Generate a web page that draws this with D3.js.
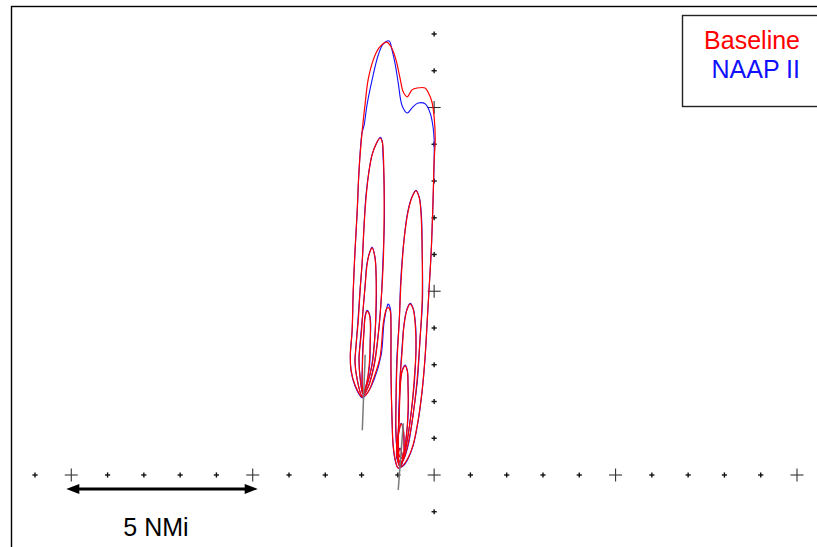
<!DOCTYPE html>
<html>
<head>
<meta charset="utf-8">
<script src="https://cdn.jsdelivr.net/npm/d3@7"></script>
<style>
  html, body { margin: 0; padding: 0; background: #fff; }
  svg { display: block; }
  text { font-family: "Liberation Sans", Arial, sans-serif; }
</style>
</head>
<body>
<svg id="chart" width="817" height="547"></svg>
<script>
// Grid reference marks (nautical miles from the reference point)
const gridX = d3.range(-11, 11);   // marks along the east-west line
const gridY = d3.range(-1, 13);    // marks along the north-south line
const majorStep = 5;

// Scale bar
const scaleBar = { from: -10, to: -5, y: -0.38, label: "5 NMi" };

// Legend entries
const seriesNames = ["Baseline", "NAAP II"];
const seriesColors = ["#ff0000", "#1010ff"];

// Noise contours, [x NMi, y NMi] vertices, Baseline scenario
const baseOuter = [[-1.31,11.78],[-1.52,11.62],[-1.68,11.29],[-1.82,10.75],[-1.90,10.12],[-1.98,9.39],[-2.07,8.30],[-2.12,7.21],[-2.18,6.12],[-2.23,5.03],[-2.26,3.95],[-2.31,3.27],[-2.29,2.86],[-2.18,2.45],[-1.98,2.12],[-1.82,2.26],[-1.68,2.59],[-1.49,3.21],[-1.40,4.14],[-1.32,4.50],[-1.27,4.56],[-1.21,4.46],[-1.19,4.03],[-1.19,2.86],[-1.16,1.50],[-1.13,0.82],[-1.07,0.41],[-0.99,0.19],[-0.85,0.27],[-0.72,0.46],[-0.58,0.82],[-0.44,1.50],[-0.33,2.31],[-0.25,3.21],[-0.19,4.22],[-0.15,4.90],[-0.08,6.12],[-0.03,7.48],[0.00,8.57],[0.03,9.12],[0.00,9.74],[-0.06,10.15],[-0.17,10.42],[-0.25,10.53],[-0.47,10.53],[-0.61,10.48],[-0.74,10.29],[-0.85,10.42],[-0.94,10.80],[-1.05,11.29],[-1.18,11.64]];
const baseL2 = [[-1.49,9.17],[-1.60,9.01],[-1.71,8.71],[-1.79,8.30],[-1.87,7.62],[-1.93,6.80],[-1.98,5.85],[-2.04,5.03],[-2.09,4.22],[-2.15,3.54],[-2.18,3.07],[-2.12,2.59],[-1.98,2.15],[-1.82,2.39],[-1.65,2.99],[-1.54,3.81],[-1.46,4.76],[-1.40,5.85],[-1.38,6.94],[-1.38,7.95],[-1.40,8.71],[-1.43,9.06]];
const baseL3 = [[-1.71,6.18],[-1.79,6.01],[-1.85,5.71],[-1.90,5.17],[-1.96,4.49],[-2.01,3.81],[-2.07,3.18],[-2.04,2.64],[-1.96,2.20],[-1.85,2.45],[-1.71,2.99],[-1.63,3.81],[-1.60,4.76],[-1.60,5.44],[-1.63,5.91]];
const baseL4 = [[-1.85,4.46],[-1.90,4.30],[-1.93,3.95],[-1.96,3.40],[-1.98,2.86],[-1.98,2.42],[-1.96,2.23],[-1.87,2.45],[-1.79,2.99],[-1.76,3.67],[-1.76,4.16],[-1.79,4.38]];
const baseR2 = [[-0.50,7.73],[-0.61,7.56],[-0.72,7.16],[-0.83,6.39],[-0.91,5.31],[-0.96,4.22],[-1.02,3.13],[-1.05,2.04],[-1.05,1.22],[-1.02,0.63],[-0.96,0.27],[-0.85,0.41],[-0.72,0.84],[-0.58,1.63],[-0.47,2.59],[-0.39,3.67],[-0.33,4.76],[-0.33,6.12],[-0.36,7.07],[-0.41,7.54]];
const baseR3 = [[-0.66,4.65],[-0.74,4.52],[-0.83,4.08],[-0.88,3.40],[-0.94,2.59],[-0.96,1.77],[-0.99,1.01],[-0.99,0.46],[-0.91,0.35],[-0.77,0.82],[-0.63,1.71],[-0.55,2.59],[-0.50,3.40],[-0.52,4.08],[-0.58,4.52]];
const baseR4 = [[-0.80,2.97],[-0.88,2.83],[-0.94,2.31],[-0.96,1.63],[-0.99,0.95],[-0.96,0.52],[-0.88,0.46],[-0.77,1.01],[-0.72,1.77],[-0.72,2.45],[-0.74,2.83]];
const baseR5 = [[-0.91,1.39],[-0.96,1.22],[-1.02,0.82],[-1.02,0.46],[-0.94,0.33],[-0.85,0.46],[-0.83,0.82],[-0.85,1.22]];
const baseR6 = [[-0.94,0.71],[-0.99,0.54],[-0.99,0.35],[-0.94,0.24],[-0.88,0.35],[-0.88,0.54]];

// Noise contours, NAAP II scenario
const naapOuter = [[-1.24,11.81],[-1.40,11.73],[-1.54,11.43],[-1.71,10.75],[-1.85,10.07],[-1.93,9.52],[-1.99,9.30],[-2.07,8.27],[-2.12,7.16],[-2.18,6.10],[-2.23,4.98],[-2.26,3.92],[-2.31,3.24],[-2.29,2.83],[-2.18,2.42],[-1.98,2.10],[-1.82,2.26],[-1.65,2.61],[-1.46,3.27],[-1.38,4.16],[-1.30,4.57],[-1.27,4.65],[-1.21,4.54],[-1.19,4.05],[-1.19,2.83],[-1.16,1.47],[-1.13,0.79],[-1.07,0.38],[-0.99,0.19],[-0.85,0.25],[-0.72,0.44],[-0.58,0.79],[-0.44,1.47],[-0.33,2.29],[-0.25,3.18],[-0.19,4.19],[-0.15,4.88],[-0.08,6.10],[-0.03,7.46],[0.00,8.57],[0.00,9.12],[-0.03,9.47],[-0.11,9.85],[-0.25,10.10],[-0.44,10.12],[-0.61,9.99],[-0.74,9.85],[-0.88,10.04],[-0.99,10.67],[-1.07,11.16],[-1.16,11.56]];
const naapL2 = [[-1.48,9.19],[-1.59,9.02],[-1.71,8.72],[-1.79,8.31],[-1.88,7.60],[-1.93,6.82],[-1.98,5.83],[-2.04,5.05],[-2.10,4.20],[-2.15,3.55],[-2.18,3.05],[-2.12,2.60],[-1.98,2.14],[-1.82,2.40],[-1.66,2.98],[-1.54,3.83],[-1.46,4.74],[-1.41,5.86],[-1.37,6.93],[-1.38,7.96],[-1.41,8.72],[-1.43,9.07]];
const naapL3 = [[-1.71,6.20],[-1.79,6.02],[-1.86,5.70],[-1.90,5.19],[-1.96,4.47],[-2.02,3.82],[-2.07,3.16],[-2.04,2.65],[-1.96,2.19],[-1.85,2.46],[-1.72,2.98],[-1.63,3.83],[-1.59,4.75],[-1.60,5.46],[-1.63,5.92]];
const naapL4 = [[-1.85,4.48],[-1.91,4.29],[-1.93,3.97],[-1.97,3.39],[-1.98,2.88],[-1.99,2.41],[-1.96,2.22],[-1.87,2.46],[-1.78,2.98],[-1.76,3.69],[-1.75,4.15],[-1.79,4.40]];
const naapR2 = [[-0.50,7.75],[-0.61,7.57],[-0.73,7.15],[-0.83,6.41],[-0.92,5.30],[-0.96,4.24],[-1.03,3.12],[-1.05,2.06],[-1.06,1.21],[-1.02,0.64],[-0.96,0.26],[-0.84,0.42],[-0.71,0.83],[-0.58,1.65],[-0.46,2.58],[-0.39,3.69],[-0.32,4.75],[-0.33,6.14],[-0.35,7.06],[-0.41,7.56]];
const naapR3 = [[-0.66,4.67],[-0.75,4.51],[-0.83,4.10],[-0.89,3.39],[-0.94,2.61],[-0.97,1.76],[-0.99,1.03],[-1.00,0.45],[-0.91,0.34],[-0.76,0.83],[-0.63,1.73],[-0.54,2.58],[-0.50,3.42],[-0.51,4.07],[-0.58,4.54]];
const naapR4 = [[-0.80,2.99],[-0.89,2.82],[-0.94,2.33],[-0.97,1.62],[-0.99,0.97],[-0.96,0.51],[-0.87,0.47],[-0.77,1.03],[-0.71,1.76],[-0.72,2.47],[-0.74,2.85]];
const naapR5 = [[-0.91,1.41],[-0.97,1.21],[-1.02,0.84],[-1.03,0.45],[-0.94,0.32],[-0.84,0.47],[-0.83,0.84],[-0.85,1.24]];
const naapR6 = [[-0.94,0.73],[-1.00,0.53],[-0.99,0.36],[-0.94,0.23],[-0.87,0.36],[-0.88,0.55]];

// Flight tracks
const trackWest = [[-1.98,1.22],[-1.90,3.27]];
const trackEast = [[-0.99,-0.41],[-0.85,1.41]];

const baseContours = [baseOuter, baseL2, baseL3, baseL4, baseR2, baseR3, baseR4, baseR5, baseR6];
const naapContours = [naapOuter, naapL2, naapL3, naapL4, naapR2, naapR3, naapR4, naapR5, naapR6];

const svg = d3.select("#chart");
const x = d3.scaleLinear().domain([-11, 10]).range([35, 797]);
const y = d3.scaleLinear().domain([-1, 12]).range([511.75, 34]);

// Plot frame
svg.append("rect")
  .attr("x", 11.5).attr("y", 6.5)
  .attr("width", 830).attr("height", 560)
  .attr("fill", "none").attr("stroke", "#000").attr("stroke-width", 1.4);

// Grid reference marks
function cross(g, cx, cy, arm, w, col) {
  g.append("line").attr("x1", cx - arm).attr("x2", cx + arm).attr("y1", cy).attr("y2", cy)
    .attr("stroke", col).attr("stroke-width", w);
  g.append("line").attr("x1", cx).attr("x2", cx).attr("y1", cy - arm).attr("y2", cy + arm)
    .attr("stroke", col).attr("stroke-width", w);
}
const marks = svg.append("g");
gridX.forEach(v => {
  const major = v % majorStep === 0;
  cross(marks, x(v), y(0), major ? 6.5 : 2.6, major ? 1.1 : 1.4, major ? "#333" : "#111");
});
gridY.forEach(v => {
  if (v === 0) return;
  const major = v % majorStep === 0;
  cross(marks, x(0), y(v), major ? 6.5 : 2.6, major ? 1.1 : 1.4, major ? "#333" : "#111");
});

// Contours: NAAP II below, Baseline on top
const contourLine = d3.line()
  .x(d => x(d[0])).y(d => y(d[1]))
  .curve(d3.curveCatmullRomClosed.alpha(0.5));

svg.append("g").selectAll("path").data(naapContours).join("path")
  .attr("d", contourLine)
  .attr("fill", "none").attr("stroke", seriesColors[1]).attr("stroke-width", 1.1);
svg.append("g").selectAll("path").data(baseContours).join("path")
  .attr("d", contourLine)
  .attr("fill", "none").attr("stroke", seriesColors[0]).attr("stroke-width", 1.2);

// Flight tracks
const trackLine = d3.line().x(d => x(d[0])).y(d => y(d[1]));
svg.append("g").selectAll("path").data([trackWest, trackEast]).join("path")
  .attr("d", trackLine)
  .attr("fill", "none").attr("stroke", "#7a7a7a").attr("stroke-width", 1.5);

// Scale bar with arrowheads
const sb = svg.append("g");
const sx0 = x(scaleBar.from) - 5, sx1 = x(scaleBar.to) + 5, sy = y(scaleBar.y);
sb.append("line").attr("x1", sx0 + 8).attr("x2", sx1 - 8).attr("y1", sy).attr("y2", sy)
  .attr("stroke", "#000").attr("stroke-width", 3);
sb.append("path").attr("d", `M${sx0},${sy} L${sx0 + 13},${sy - 5} L${sx0 + 13},${sy + 5} Z`).attr("fill", "#000");
sb.append("path").attr("d", `M${sx1},${sy} L${sx1 - 13},${sy - 5} L${sx1 - 13},${sy + 5} Z`).attr("fill", "#000");
sb.append("text")
  .attr("x", (sx0 + sx1) / 2 - 6).attr("y", 536)
  .attr("text-anchor", "middle").attr("font-size", 25).attr("fill", "#000")
  .text(scaleBar.label);

// Legend
const lg = svg.append("g");
lg.append("rect").attr("x", 682.5).attr("y", 15.5).attr("width", 150).attr("height", 91)
  .attr("fill", "#fff").attr("stroke", "#222").attr("stroke-width", 1.4);
seriesNames.forEach((name, i) => {
  lg.append("text")
    .attr("x", 800).attr("y", 49 + i * 29)
    .attr("text-anchor", "end").attr("font-size", 25)
    .attr("fill", seriesColors[i])
    .text(name);
});
</script>
</body>
</html>
